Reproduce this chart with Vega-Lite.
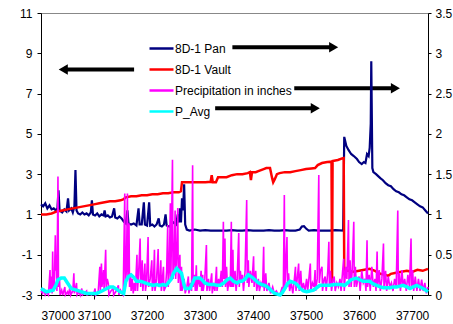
{
  "$schema": "https://vega.github.io/schema/vega-lite/v6.json",
  "width": 387,
  "height": 282,
  "autosize": {"type": "none"},
  "padding": {"left": 41, "top": 13, "right": 25, "bottom": 29},
  "background": "white",
  "config": {
    "view": {"stroke": "#888888", "strokeWidth": 1},
    "font": "Liberation Sans",
    "axis": {"labelFont": "Liberation Sans", "labelFontSize": 12, "labelColor": "black", "domainColor": "black", "tickColor": "black", "grid": false, "title": null}
  },
  "datasets": {
    "arrows": [
      {"d": 37361, "d2": 37552, "v": 9.3},
      {"d": 37175.6, "d2": 37042, "v": 8.2},
      {"d": 37477.7, "d2": 37668.5, "v": 7.26},
      {"d": 37328.5, "d2": 37517.4, "v": 6.27}
    ],
    "heads": [
      {"d": 37552, "v": 9.3, "dir": "right"},
      {"d": 37042, "v": 8.2, "dir": "left"},
      {"d": 37668.5, "v": 7.26, "dir": "right"},
      {"d": 37517.4, "v": 6.27, "dir": "right"}
    ],
    "pan": [
      {"d":37000,"v":1.5},{"d":37004,"v":1.4},{"d":37008,"v":1.55},{"d":37012,"v":1.3},{"d":37016,"v":1.45},{"d":37020,"v":1.25},{"d":37024,"v":1.3},{"d":37028,"v":1.2},{"d":37031,"v":1.3},{"d":37033,"v":2.2},{"d":37035,"v":1.2},{"d":37040,"v":1.1},{"d":37044,"v":1.25},{"d":37048,"v":1.15},{"d":37051,"v":1.8},{"d":37053,"v":1.2},{"d":37057,"v":1.3},{"d":37060,"v":1.1},{"d":37063,"v":1.4},{"d":37065,"v":3.2},{"d":37067,"v":1.2},{"d":37070,"v":1.05},{"d":37074,"v":1.0},{"d":37078,"v":1.1},{"d":37082,"v":1.0},{"d":37086,"v":1.05},{"d":37090,"v":0.95},{"d":37094,"v":1.1},{"d":37096,"v":1.7},{"d":37098,"v":1.0},{"d":37102,"v":0.95},{"d":37106,"v":1.05},{"d":37110,"v":0.9},{"d":37114,"v":1.0},{"d":37118,"v":0.95},{"d":37120,"v":1.2},{"d":37122,"v":0.9},{"d":37126,"v":0.95},{"d":37130,"v":0.85},{"d":37134,"v":0.9},{"d":37138,"v":1.3},{"d":37140,"v":0.85},{"d":37144,"v":0.8},{"d":37148,"v":0.9},{"d":37152,"v":0.8},{"d":37156,"v":0.65},{"d":37160,"v":0.55},{"d":37163,"v":1.2},{"d":37165,"v":0.55},{"d":37170,"v":0.5},{"d":37175,"v":0.55},{"d":37180,"v":0.45},{"d":37184,"v":1.3},{"d":37186,"v":0.5},{"d":37190,"v":0.5},{"d":37194,"v":1.6},{"d":37196,"v":0.5},{"d":37200,"v":0.45},{"d":37204,"v":1.6},{"d":37206,"v":0.45},{"d":37210,"v":0.5},{"d":37214,"v":0.4},{"d":37218,"v":0.5},{"d":37222,"v":0.8},{"d":37224,"v":0.45},{"d":37228,"v":0.4},{"d":37232,"v":0.5},{"d":37235,"v":1.0},{"d":37237,"v":0.45},{"d":37242,"v":0.4},{"d":37246,"v":0.5},{"d":37250,"v":0.6},{"d":37255,"v":0.5},{"d":37258,"v":1.0},{"d":37260,"v":0.6},{"d":37262,"v":1.3},{"d":37264,"v":0.6},{"d":37266,"v":1.8},{"d":37268,"v":1.2},{"d":37270,"v":2.5},{"d":37272,"v":0.5},{"d":37275,"v":0.25},{"d":37280,"v":0.2},{"d":37290,"v":0.25},{"d":37300,"v":0.2},{"d":37310,"v":0.22},{"d":37320,"v":0.2},{"d":37330,"v":0.2},{"d":37340,"v":0.2},{"d":37350,"v":0.2},{"d":37360,"v":0.22},{"d":37370,"v":0.2},{"d":37380,"v":0.2},{"d":37390,"v":0.22},{"d":37400,"v":0.2},{"d":37410,"v":0.2},{"d":37420,"v":0.2},{"d":37430,"v":0.22},{"d":37440,"v":0.2},{"d":37450,"v":0.2},{"d":37460,"v":0.22},{"d":37470,"v":0.2},{"d":37480,"v":0.2},{"d":37488,"v":0.25},{"d":37492,"v":0.4},{"d":37496,"v":0.42},{"d":37500,"v":0.3},{"d":37505,"v":0.2},{"d":37515,"v":0.22},{"d":37525,"v":0.2},{"d":37535,"v":0.2},{"d":37545,"v":0.2},{"d":37555,"v":0.22},{"d":37570,"v":0.2},{"d":37572,"v":4.85},{"d":37576,"v":4.4},{"d":37580,"v":4.2},{"d":37585,"v":4.0},{"d":37590,"v":3.9},{"d":37596,"v":3.75},{"d":37600,"v":3.6},{"d":37605,"v":3.5},{"d":37609,"v":3.6},{"d":37612,"v":3.55},{"d":37615,"v":4.0},{"d":37618,"v":3.9},{"d":37620,"v":4.3},{"d":37622,"v":5.5},{"d":37623,"v":8.6},{"d":37624,"v":6.0},{"d":37625,"v":3.3},{"d":37627,"v":3.1},{"d":37632,"v":3.0},{"d":37636,"v":2.9},{"d":37640,"v":2.8},{"d":37645,"v":2.7},{"d":37650,"v":2.55},{"d":37655,"v":2.45},{"d":37660,"v":2.4},{"d":37665,"v":2.25},{"d":37670,"v":2.15},{"d":37675,"v":2.1},{"d":37680,"v":2.0},{"d":37685,"v":1.95},{"d":37690,"v":1.85},{"d":37695,"v":1.75},{"d":37700,"v":1.7},{"d":37705,"v":1.6},{"d":37710,"v":1.5},{"d":37715,"v":1.4},{"d":37720,"v":1.35},{"d":37725,"v":1.2},{"d":37730,"v":1.05}
    ],
    "vault": [
      {"d":37000,"v":1.0},{"d":37010,"v":1.0},{"d":37020,"v":1.05},{"d":37030,"v":1.15},{"d":37040,"v":1.2},{"d":37050,"v":1.25},{"d":37060,"v":1.3},{"d":37070,"v":1.35},{"d":37080,"v":1.4},{"d":37090,"v":1.45},{"d":37100,"v":1.5},{"d":37110,"v":1.55},{"d":37120,"v":1.6},{"d":37130,"v":1.65},{"d":37140,"v":1.65},{"d":37150,"v":1.7},{"d":37155,"v":1.75},{"d":37158,"v":1.8},{"d":37160,"v":1.85},{"d":37170,"v":1.9},{"d":37180,"v":1.9},{"d":37190,"v":1.95},{"d":37200,"v":1.95},{"d":37210,"v":2.0},{"d":37220,"v":2.0},{"d":37230,"v":2.05},{"d":37240,"v":2.05},{"d":37250,"v":2.1},{"d":37260,"v":2.1},{"d":37264,"v":2.15},{"d":37266,"v":2.6},{"d":37280,"v":2.6},{"d":37290,"v":2.6},{"d":37300,"v":2.6},{"d":37310,"v":2.6},{"d":37320,"v":2.62},{"d":37322,"v":2.95},{"d":37324,"v":2.6},{"d":37330,"v":2.6},{"d":37334,"v":2.85},{"d":37340,"v":2.85},{"d":37350,"v":2.85},{"d":37360,"v":2.95},{"d":37370,"v":3.0},{"d":37380,"v":3.0},{"d":37390,"v":3.05},{"d":37394,"v":3.1},{"d":37396,"v":2.7},{"d":37398,"v":3.1},{"d":37405,"v":3.1},{"d":37410,"v":3.15},{"d":37420,"v":3.25},{"d":37425,"v":3.3},{"d":37432,"v":3.3},{"d":37436,"v":2.8},{"d":37438,"v":2.6},{"d":37441,"v":2.75},{"d":37445,"v":3.0},{"d":37450,"v":3.05},{"d":37460,"v":3.1},{"d":37470,"v":3.1},{"d":37480,"v":3.15},{"d":37490,"v":3.2},{"d":37500,"v":3.25},{"d":37510,"v":3.28},{"d":37517,"v":3.3},{"d":37522,"v":3.45},{"d":37530,"v":3.55},{"d":37540,"v":3.6},{"d":37548,"v":3.62},{"d":37549,"v":-2.35},{"d":37550,"v":3.65},{"d":37560,"v":3.7},{"d":37568,"v":3.78},{"d":37571,"v":3.8},{"d":37572,"v":-1.8},{"d":37580,"v":-1.8},{"d":37590,"v":-1.85},{"d":37600,"v":-1.8},{"d":37610,"v":-1.75},{"d":37620,"v":-1.7},{"d":37630,"v":-1.8},{"d":37640,"v":-1.95},{"d":37650,"v":-2.0},{"d":37655,"v":-2.05},{"d":37660,"v":-1.95},{"d":37670,"v":-1.9},{"d":37680,"v":-1.85},{"d":37690,"v":-1.8},{"d":37700,"v":-1.85},{"d":37710,"v":-1.75},{"d":37720,"v":-1.8},{"d":37730,"v":-1.7}
    ],
    "precip": [
      {"d":37000,"v":0.05},{"d":37003,"v":0.02},{"d":37005,"v":0.08},{"d":37008,"v":0.0},{"d":37011,"v":0.03},{"d":37014,"v":0.0},{"d":37017,"v":0.31},{"d":37018,"v":0.05},{"d":37020,"v":0.23},{"d":37021,"v":0.02},{"d":37022,"v":0.54},{"d":37023,"v":0.05},{"d":37025,"v":0.1},{"d":37027,"v":0.74},{"d":37028,"v":0.3},{"d":37029,"v":0.43},{"d":37030,"v":0.05},{"d":37032,"v":1.47},{"d":37033,"v":0.1},{"d":37035,"v":0.19},{"d":37036,"v":0.0},{"d":37039,"v":0.06},{"d":37041,"v":0.0},{"d":37045,"v":0.1},{"d":37046,"v":0.0},{"d":37050,"v":0.04},{"d":37052,"v":0.0},{"d":37055,"v":0.12},{"d":37056,"v":0.0},{"d":37060,"v":0.05},{"d":37062,"v":0.27},{"d":37063,"v":0.02},{"d":37067,"v":0.15},{"d":37068,"v":0.0},{"d":37072,"v":0.04},{"d":37074,"v":0.0},{"d":37077,"v":0.08},{"d":37078,"v":0.0},{"d":37083,"v":0.03},{"d":37086,"v":0.05},{"d":37087,"v":0.0},{"d":37092,"v":0.02},{"d":37095,"v":0.0},{"d":37100,"v":0.03},{"d":37102,"v":0.08},{"d":37103,"v":0.0},{"d":37108,"v":0.05},{"d":37111,"v":0.35},{"d":37112,"v":0.05},{"d":37114,"v":0.39},{"d":37115,"v":0.1},{"d":37118,"v":0.31},{"d":37119,"v":0.05},{"d":37122,"v":0.56},{"d":37123,"v":0.1},{"d":37125,"v":0.2},{"d":37127,"v":0.14},{"d":37128,"v":0.0},{"d":37132,"v":0.05},{"d":37136,"v":0.08},{"d":37137,"v":0.0},{"d":37141,"v":0.04},{"d":37146,"v":0.12},{"d":37147,"v":0.0},{"d":37150,"v":0.06},{"d":37152,"v":0.03},{"d":37155,"v":0.0},{"d":37158,"v":1.26},{"d":37159,"v":0.1},{"d":37161,"v":0.3},{"d":37163,"v":1.26},{"d":37164,"v":0.2},{"d":37166,"v":0.89},{"d":37167,"v":0.1},{"d":37169,"v":0.27},{"d":37170,"v":0.05},{"d":37172,"v":0.2},{"d":37174,"v":0.02},{"d":37176,"v":0.15},{"d":37178,"v":0.05},{"d":37181,"v":0.5},{"d":37182,"v":0.05},{"d":37184,"v":0.25},{"d":37187,"v":0.7},{"d":37188,"v":0.1},{"d":37191,"v":0.43},{"d":37192,"v":0.05},{"d":37194,"v":0.2},{"d":37196,"v":0.39},{"d":37197,"v":0.05},{"d":37199,"v":0.15},{"d":37202,"v":0.72},{"d":37203,"v":0.1},{"d":37206,"v":0.2},{"d":37209,"v":0.43},{"d":37210,"v":0.05},{"d":37212,"v":0.15},{"d":37214,"v":0.56},{"d":37215,"v":0.05},{"d":37218,"v":0.2},{"d":37221,"v":0.57},{"d":37222,"v":0.1},{"d":37224,"v":0.15},{"d":37226,"v":0.43},{"d":37227,"v":0.05},{"d":37229,"v":0.2},{"d":37231,"v":0.35},{"d":37232,"v":0.05},{"d":37235,"v":0.1},{"d":37237,"v":0.3},{"d":37239,"v":0.87},{"d":37240,"v":0.1},{"d":37242,"v":0.3},{"d":37244,"v":1.14},{"d":37245,"v":0.2},{"d":37248,"v":1.68},{"d":37249,"v":0.2},{"d":37251,"v":0.4},{"d":37253,"v":1.05},{"d":37254,"v":0.2},{"d":37256,"v":0.5},{"d":37258,"v":1.08},{"d":37259,"v":0.15},{"d":37262,"v":0.5},{"d":37263,"v":0.05},{"d":37265,"v":0.35},{"d":37266,"v":0.05},{"d":37270,"v":0.2},{"d":37272,"v":0.02},{"d":37275,"v":0.1},{"d":37278,"v":0.23},{"d":37279,"v":0.02},{"d":37282,"v":0.15},{"d":37284,"v":0.05},{"d":37286,"v":1.61},{"d":37287,"v":0.1},{"d":37290,"v":0.25},{"d":37291,"v":0.05},{"d":37293,"v":0.37},{"d":37294,"v":0.05},{"d":37297,"v":0.2},{"d":37300,"v":0.1},{"d":37302,"v":0.3},{"d":37303,"v":0.05},{"d":37305,"v":0.25},{"d":37306,"v":0.05},{"d":37309,"v":0.2},{"d":37312,"v":0.62},{"d":37313,"v":0.05},{"d":37316,"v":0.2},{"d":37318,"v":0.05},{"d":37322,"v":0.27},{"d":37323,"v":0.02},{"d":37326,"v":0.15},{"d":37328,"v":0.05},{"d":37331,"v":0.35},{"d":37332,"v":0.05},{"d":37335,"v":0.2},{"d":37337,"v":0.1},{"d":37340,"v":0.3},{"d":37342,"v":0.1},{"d":37344,"v":0.91},{"d":37345,"v":0.2},{"d":37347,"v":0.7},{"d":37348,"v":0.1},{"d":37350,"v":0.35},{"d":37352,"v":0.05},{"d":37355,"v":0.2},{"d":37357,"v":0.1},{"d":37359,"v":0.91},{"d":37360,"v":0.1},{"d":37362,"v":0.56},{"d":37363,"v":0.1},{"d":37366,"v":0.3},{"d":37368,"v":0.05},{"d":37370,"v":0.2},{"d":37373,"v":0.77},{"d":37374,"v":0.1},{"d":37376,"v":0.3},{"d":37378,"v":0.15},{"d":37380,"v":0.25},{"d":37382,"v":0.05},{"d":37385,"v":0.3},{"d":37388,"v":1.18},{"d":37389,"v":0.15},{"d":37391,"v":0.43},{"d":37392,"v":0.1},{"d":37395,"v":0.3},{"d":37398,"v":0.15},{"d":37401,"v":0.48},{"d":37402,"v":0.1},{"d":37405,"v":0.3},{"d":37407,"v":0.05},{"d":37410,"v":0.2},{"d":37412,"v":0.05},{"d":37415,"v":0.15},{"d":37418,"v":0.1},{"d":37420,"v":0.6},{"d":37421,"v":0.05},{"d":37424,"v":0.27},{"d":37426,"v":0.05},{"d":37430,"v":0.15},{"d":37433,"v":0.02},{"d":37437,"v":0.1},{"d":37440,"v":0.02},{"d":37444,"v":0.05},{"d":37448,"v":0.0},{"d":37452,"v":0.03},{"d":37455,"v":0.1},{"d":37457,"v":0.02},{"d":37459,"v":1.24},{"d":37460,"v":0.1},{"d":37462,"v":0.4},{"d":37464,"v":0.72},{"d":37465,"v":0.1},{"d":37467,"v":0.27},{"d":37469,"v":0.05},{"d":37472,"v":0.15},{"d":37475,"v":0.02},{"d":37478,"v":0.2},{"d":37480,"v":0.35},{"d":37481,"v":0.05},{"d":37484,"v":0.25},{"d":37486,"v":0.39},{"d":37487,"v":0.05},{"d":37490,"v":0.3},{"d":37492,"v":0.05},{"d":37495,"v":0.15},{"d":37498,"v":0.05},{"d":37501,"v":0.2},{"d":37503,"v":0.05},{"d":37506,"v":0.25},{"d":37508,"v":0.39},{"d":37509,"v":0.05},{"d":37512,"v":0.15},{"d":37515,"v":0.1},{"d":37517,"v":0.31},{"d":37518,"v":0.05},{"d":37521,"v":0.2},{"d":37524,"v":1.49},{"d":37525,"v":0.15},{"d":37527,"v":0.3},{"d":37530,"v":0.35},{"d":37531,"v":0.05},{"d":37534,"v":0.2},{"d":37536,"v":0.23},{"d":37538,"v":0.05},{"d":37541,"v":0.3},{"d":37543,"v":0.66},{"d":37544,"v":0.1},{"d":37546,"v":0.3},{"d":37548,"v":0.05},{"d":37551,"v":0.2},{"d":37553,"v":0.23},{"d":37555,"v":0.05},{"d":37558,"v":0.15},{"d":37561,"v":0.1},{"d":37564,"v":0.2},{"d":37566,"v":0.05},{"d":37569,"v":0.3},{"d":37571,"v":0.45},{"d":37572,"v":0.05},{"d":37575,"v":0.35},{"d":37577,"v":0.2},{"d":37580,"v":0.93},{"d":37581,"v":0.1},{"d":37583,"v":0.43},{"d":37585,"v":0.1},{"d":37587,"v":0.3},{"d":37590,"v":0.91},{"d":37591,"v":0.1},{"d":37593,"v":0.35},{"d":37595,"v":0.1},{"d":37598,"v":0.2},{"d":37600,"v":0.23},{"d":37602,"v":0.05},{"d":37605,"v":0.3},{"d":37608,"v":0.15},{"d":37611,"v":0.2},{"d":37613,"v":0.05},{"d":37615,"v":0.68},{"d":37616,"v":0.1},{"d":37619,"v":0.25},{"d":37621,"v":0.05},{"d":37624,"v":0.35},{"d":37627,"v":0.1},{"d":37630,"v":0.2},{"d":37632,"v":0.05},{"d":37634,"v":0.54},{"d":37635,"v":0.1},{"d":37638,"v":0.31},{"d":37640,"v":0.05},{"d":37643,"v":0.2},{"d":37646,"v":0.64},{"d":37647,"v":0.1},{"d":37650,"v":0.3},{"d":37652,"v":0.05},{"d":37655,"v":0.23},{"d":37658,"v":0.1},{"d":37661,"v":0.15},{"d":37664,"v":0.05},{"d":37667,"v":0.2},{"d":37670,"v":0.1},{"d":37673,"v":1.05},{"d":37674,"v":0.1},{"d":37676,"v":0.27},{"d":37678,"v":0.05},{"d":37681,"v":0.31},{"d":37683,"v":0.1},{"d":37686,"v":0.2},{"d":37689,"v":0.05},{"d":37692,"v":0.25},{"d":37695,"v":0.1},{"d":37698,"v":0.7},{"d":37699,"v":0.1},{"d":37701,"v":0.31},{"d":37703,"v":0.05},{"d":37706,"v":0.23},{"d":37709,"v":0.05},{"d":37712,"v":0.2},{"d":37715,"v":0.05},{"d":37718,"v":0.19},{"d":37721,"v":0.05},{"d":37724,"v":0.15},{"d":37727,"v":0.02},{"d":37730,"v":0.1}
    ],
    "pavg": [
      {"d":37000,"v":0.08},{"d":37010,"v":0.04},{"d":37023,"v":0.06},{"d":37028,"v":0.12},{"d":37032,"v":0.19},{"d":37038,"v":0.21},{"d":37044,"v":0.21},{"d":37050,"v":0.15},{"d":37057,"v":0.08},{"d":37067,"v":0.06},{"d":37076,"v":0.04},{"d":37086,"v":0.02},{"d":37095,"v":0.02},{"d":37105,"v":0.02},{"d":37115,"v":0.05},{"d":37124,"v":0.08},{"d":37130,"v":0.1},{"d":37136,"v":0.1},{"d":37143,"v":0.07},{"d":37149,"v":0.04},{"d":37156,"v":0.02},{"d":37160,"v":0.17},{"d":37165,"v":0.23},{"d":37170,"v":0.25},{"d":37175,"v":0.22},{"d":37180,"v":0.17},{"d":37187,"v":0.17},{"d":37193,"v":0.16},{"d":37200,"v":0.14},{"d":37205,"v":0.13},{"d":37212,"v":0.12},{"d":37218,"v":0.13},{"d":37224,"v":0.12},{"d":37230,"v":0.13},{"d":37236,"v":0.12},{"d":37240,"v":0.15},{"d":37246,"v":0.2},{"d":37250,"v":0.27},{"d":37256,"v":0.33},{"d":37260,"v":0.3},{"d":37265,"v":0.27},{"d":37270,"v":0.12},{"d":37272,"v":0.08},{"d":37281,"v":0.08},{"d":37286,"v":0.15},{"d":37290,"v":0.21},{"d":37295,"v":0.21},{"d":37300,"v":0.21},{"d":37305,"v":0.18},{"d":37309,"v":0.15},{"d":37317,"v":0.13},{"d":37325,"v":0.13},{"d":37332,"v":0.12},{"d":37338,"v":0.12},{"d":37345,"v":0.15},{"d":37351,"v":0.19},{"d":37357,"v":0.21},{"d":37363,"v":0.17},{"d":37370,"v":0.15},{"d":37375,"v":0.17},{"d":37379,"v":0.17},{"d":37385,"v":0.2},{"d":37391,"v":0.25},{"d":37396,"v":0.23},{"d":37400,"v":0.21},{"d":37405,"v":0.18},{"d":37410,"v":0.15},{"d":37416,"v":0.13},{"d":37422,"v":0.12},{"d":37427,"v":0.1},{"d":37432,"v":0.07},{"d":37437,"v":0.04},{"d":37441,"v":0.02},{"d":37446,"v":0.01},{"d":37451,"v":0.0},{"d":37455,"v":0.03},{"d":37460,"v":0.08},{"d":37465,"v":0.14},{"d":37470,"v":0.17},{"d":37475,"v":0.16},{"d":37479,"v":0.15},{"d":37484,"v":0.12},{"d":37489,"v":0.08},{"d":37495,"v":0.05},{"d":37501,"v":0.04},{"d":37507,"v":0.05},{"d":37514,"v":0.06},{"d":37520,"v":0.09},{"d":37526,"v":0.12},{"d":37535,"v":0.12},{"d":37545,"v":0.12},{"d":37555,"v":0.13},{"d":37564,"v":0.13},{"d":37573,"v":0.12},{"d":37580,"v":0.16},{"d":37585,"v":0.19},{"d":37590,"v":0.2},{"d":37595,"v":0.21},{"d":37601,"v":0.19},{"d":37608,"v":0.17},{"d":37614,"v":0.17},{"d":37620,"v":0.17},{"d":37626,"v":0.14},{"d":37633,"v":0.12},{"d":37640,"v":0.1},{"d":37646,"v":0.09},{"d":37652,"v":0.09},{"d":37658,"v":0.09},{"d":37664,"v":0.1},{"d":37671,"v":0.1},{"d":37677,"v":0.11},{"d":37683,"v":0.12},{"d":37690,"v":0.1},{"d":37696,"v":0.08},{"d":37702,"v":0.1},{"d":37709,"v":0.12},{"d":37715,"v":0.1},{"d":37721,"v":0.08},{"d":37726,"v":0.06},{"d":37730,"v":0.04}
    ]
  },
  "encoding": {
    "x": {
      "field": "d", "type": "quantitative",
      "scale": {"domain": [37000, 37730], "nice": false, "zero": false},
      "axis": {"values": [37000, 37100, 37200, 37300, 37400, 37500, 37600, 37700], "format": "d", "tickSize": 4, "labelPadding": 11, "title": null}
    }
  },
  "layer": [
    {
      "encoding": {
        "y": {
          "field": "v", "type": "quantitative",
          "scale": {"domain": [-3, 11], "nice": false, "zero": false},
          "axis": {"orient": "left", "values": [-3, -1, 1, 3, 5, 7, 9, 11], "labelExpr": "toString(datum.value)", "tickSize": 4, "labelPadding": 5, "title": null}
        }
      },
      "layer": [
        {
          "data": {"name": "arrows"},
          "mark": {"type": "rule", "color": "black", "strokeWidth": 4},
          "encoding": {"x2": {"field": "d2"}}
        },
        {
          "data": {"name": "heads"},
          "mark": {"type": "point", "filled": true, "color": "black", "opacity": 1, "size": 110},
          "encoding": {
            "shape": {"field": "dir", "type": "nominal", "scale": {"domain": ["right", "left"], "range": ["triangle-right", "triangle-left"]}, "legend": null}
          }
        },
        {
          "data": {"name": "pan"},
          "mark": {"type": "line", "strokeWidth": 2.2},
          "encoding": {
            "color": {
              "datum": "8D-1 Pan",
              "scale": {"domain": ["8D-1 Pan", "8D-1 Vault", "Precipitation in inches", "P_Avg"], "range": ["#000080", "#ff0000", "#ff00ff", "#00ffff"]},
              "legend": {"orient": "none", "legendX": 107, "legendY": 22, "title": null, "symbolType": "stroke", "symbolSize": 576, "symbolStrokeWidth": 2.5, "labelFont": "Liberation Sans", "labelFontSize": 12, "labelColor": "black", "labelOffset": 0, "rowPadding": 1}
            }
          }
        },
        {
          "data": {"name": "vault"},
          "mark": {"type": "line", "strokeWidth": 2.5},
          "encoding": {"color": {"datum": "8D-1 Vault"}}
        }
      ]
    },
    {
      "encoding": {
        "y": {
          "field": "v", "type": "quantitative",
          "scale": {"domain": [0, 3.5], "nice": false, "zero": false},
          "axis": {"orient": "right", "values": [0, 0.5, 1, 1.5, 2, 2.5, 3, 3.5], "labelExpr": "toString(datum.value)", "tickSize": 3, "labelPadding": 4, "title": null}
        }
      },
      "layer": [
        {
          "data": {"name": "precip"},
          "mark": {"type": "line", "strokeWidth": 1.6},
          "encoding": {"color": {"datum": "Precipitation in inches"}}
        },
        {
          "data": {"name": "pavg"},
          "mark": {"type": "line", "strokeWidth": 3.5},
          "encoding": {"color": {"datum": "P_Avg"}}
        }
      ]
    }
  ],
  "resolve": {"scale": {"y": "independent"}}
}
